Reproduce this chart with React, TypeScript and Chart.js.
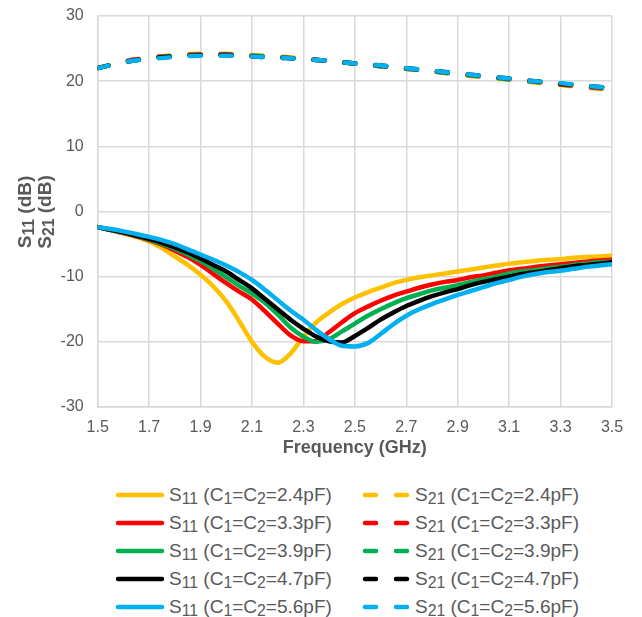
import React, { useEffect, useRef } from "react";
import { Chart, registerables } from "chart.js";
Chart.register(...registerables);

// Frequency grid (GHz) for S11 traces
const freq11 = [
  1.5, 1.55, 1.6, 1.65, 1.7, 1.75, 1.8, 1.85, 1.9, 1.95, 2.0,
  2.05, 2.1, 2.15, 2.2, 2.25, 2.3, 2.35, 2.4, 2.45, 2.5,
  2.55, 2.6, 2.65, 2.7, 2.75, 2.8, 2.85, 2.9, 2.95, 3.0,
  3.05, 3.1, 3.15, 3.2, 3.25, 3.3, 3.35, 3.4, 3.45, 3.5,
];
// Frequency grid (GHz) for S21 traces
const freq21 = [1.5, 1.6, 1.7, 1.8, 1.9, 2.0, 2.1, 2.2, 2.3, 2.4, 2.5, 2.6, 2.7, 2.8, 2.9, 3.0, 3.1, 3.2, 3.3, 3.4, 3.5];

// S11 (dB)
const s11_24 = [
  -2.4, -2.85, -3.35, -3.9, -4.6, -5.6, -6.9, -8.2, -9.7, -11.5, -13.8,
  -16.8, -20.0, -22.3, -23.2, -21.8, -19.2, -17.0, -15.5, -14.2, -13.2,
  -12.4, -11.7, -11.0, -10.5, -10.1, -9.8, -9.5, -9.2, -8.9, -8.6,
  -8.3, -8.0, -7.8, -7.6, -7.4, -7.3, -7.1, -7.0, -6.9, -6.8,
];
const s11_33 = [
  -2.4, -2.85, -3.3, -3.8, -4.4, -5.1, -6.0, -7.0, -8.2, -9.6, -11.0,
  -12.3, -13.5, -15.3, -17.2, -19.0, -19.9, -19.9, -18.5, -17.0, -15.6,
  -14.6, -13.7, -12.9, -12.3, -11.7, -11.2, -10.8, -10.5, -10.1, -9.8,
  -9.4, -9.0, -8.8, -8.5, -8.3, -8.1, -7.9, -7.7, -7.5, -7.4,
];
const s11_39 = [
  -2.4, -2.8, -3.25, -3.75, -4.3, -4.95, -5.7, -6.6, -7.6, -8.8, -10.1,
  -11.4, -12.6, -14.0, -15.8, -17.8, -19.2, -20.0, -19.6, -18.4, -17.2,
  -16.0, -15.0, -14.1, -13.3, -12.7, -12.1, -11.7, -11.3, -10.8, -10.4,
  -10.0, -9.5, -9.2, -9.0, -8.7, -8.5, -8.2, -8.0, -7.8, -7.7,
];
const s11_47 = [
  -2.4, -2.8, -3.2, -3.7, -4.2, -4.8, -5.5, -6.3, -7.2, -8.2, -9.2,
  -10.5, -11.8, -13.4, -15.0, -16.6, -18.0, -19.2, -19.9, -20.1, -19.1,
  -17.9, -16.6, -15.5, -14.5, -13.7, -13.0, -12.4, -11.9, -11.3, -10.8,
  -10.4, -10.0, -9.6, -9.3, -9.0, -8.7, -8.4, -8.2, -8.0, -7.8,
];
const s11_56 = [
  -2.4, -2.7, -3.05, -3.45, -3.9, -4.4, -5.0, -5.8, -6.6, -7.4, -8.3,
  -9.3, -10.5, -12.0, -13.6, -15.2, -16.6, -18.2, -19.6, -20.6, -20.7,
  -20.2, -18.8, -17.3, -16.0, -15.0, -14.2, -13.5, -12.8, -12.2, -11.6,
  -11.0, -10.5, -10.0, -9.6, -9.3, -9.1, -8.8, -8.5, -8.3, -8.1,
];

// S21 (dB)
const s21_24 = [22.0, 23.0, 23.6, 24.0, 24.2, 24.2, 24.0, 23.8, 23.5, 23.1, 22.7, 22.3, 21.9, 21.5, 21.0, 20.6, 20.2, 19.8, 19.4, 19.0, 18.7];
const s21_33 = [22.0, 23.0, 23.6, 23.9, 24.1, 24.1, 23.9, 23.7, 23.4, 23.1, 22.7, 22.3, 21.9, 21.5, 21.1, 20.7, 20.3, 19.9, 19.5, 19.1, 18.8];
const s21_39 = [22.0, 22.9, 23.5, 23.9, 24.0, 24.0, 23.9, 23.7, 23.4, 23.1, 22.7, 22.3, 21.9, 21.5, 21.1, 20.7, 20.3, 19.9, 19.6, 19.2, 18.9];
const s21_47 = [22.0, 22.9, 23.5, 23.8, 24.0, 24.0, 23.8, 23.6, 23.4, 23.1, 22.7, 22.4, 22.0, 21.6, 21.2, 20.8, 20.4, 20.0, 19.6, 19.3, 18.9];
const s21_56 = [22.0, 22.9, 23.4, 23.7, 23.9, 23.9, 23.8, 23.6, 23.4, 23.1, 22.7, 22.4, 22.0, 21.6, 21.2, 20.8, 20.4, 20.0, 19.7, 19.3, 18.9];

const capValues = ["2.4", "3.3", "3.9", "4.7", "5.6"];
const seriesColors = ["#FFC000", "#FF0000", "#00B050", "#000000", "#00B0F0"];
const xTicks = [1.5, 1.7, 1.9, 2.1, 2.3, 2.5, 2.7, 2.9, 3.1, 3.3, 3.5];
const yTicks = [-30, -20, -10, 0, 10, 20, 30];

const FONT = '"Liberation Sans", Arial, Helvetica, sans-serif';
const TEXT = "#595959";
const GRID = "#d9d9d9";

const subStyle: React.CSSProperties = { fontSize: "0.83em", position: "relative", top: "0.2em", verticalAlign: "baseline" };

function LegendText({ s, cap }: { s: string; cap: string }) {
  return (
    <span>
      S<span style={subStyle}>{s}</span> (C<span style={subStyle}>1</span>=C<span style={subStyle}>2</span>={cap}pF)
    </span>
  );
}

export default function App() {
  const ref = useRef<HTMLCanvasElement>(null);

  useEffect(() => {
    const canvas = ref.current;
    if (!canvas) return;
    const s11 = [s11_24, s11_33, s11_39, s11_47, s11_56];
    const s21 = [s21_24, s21_33, s21_39, s21_47, s21_56];
    const datasets: any[] = [];
    // index 0 is drawn last (on top) -> push last series first
    for (let i = 4; i >= 0; i--) {
      datasets.push({
        label: `S11 (C1=C2=${capValues[i]}pF)`,
        data: freq11.map((f, k) => ({ x: f, y: s11[i][k] })),
        borderColor: seriesColors[i],
        backgroundColor: seriesColors[i],
        borderWidth: 4.5,
        pointRadius: 0,
        cubicInterpolationMode: "monotone",
        borderCapStyle: "round",
        borderJoinStyle: "round",
        fill: false,
      });
    }
    for (let i = 4; i >= 0; i--) {
      datasets.push({
        label: `S21 (C1=C2=${capValues[i]}pF)`,
        data: freq21.map((f, k) => ({ x: f, y: s21[i][k] })),
        borderColor: seriesColors[i],
        backgroundColor: seriesColors[i],
        borderWidth: 4.5,
        borderDash: [11, 20],
        pointRadius: 0,
        cubicInterpolationMode: "monotone",
        borderCapStyle: "round",
        borderJoinStyle: "round",
        fill: false,
      });
    }

    const chart = new Chart(canvas, {
      type: "line",
      data: { datasets },
      options: {
        responsive: false,
        animation: false,
        devicePixelRatio: 1,
        layout: { autoPadding: false, padding: { top: 16, right: 30, bottom: 0, left: 0 } },
        plugins: { legend: { display: false }, tooltip: { enabled: false } },
        scales: {
          x: {
            type: "linear",
            min: 1.5,
            max: 3.5,
            afterBuildTicks: (s: any) => {
              s.ticks = xTicks.map((v) => ({ value: v }));
            },
            afterFit: (s: any) => {
              s.height = 56;
              s.paddingLeft = 0;
              s.paddingRight = 0;
            },
            ticks: {
              padding: 11,
              color: TEXT,
              font: { family: FONT, size: 16 },
              maxRotation: 0,
              autoSkip: false,
              callback: (v: any) => Number(v).toFixed(1),
            },
            grid: { color: GRID, lineWidth: 1.5, drawTicks: false },
            border: { display: true, color: GRID, width: 1.5 },
            title: {
              display: true,
              text: "Frequency (GHz)",
              color: TEXT,
              font: { family: FONT, size: 18, weight: "bold" },
              padding: { top: 2, bottom: 4 },
            },
          },
          y: {
            type: "linear",
            min: -30,
            max: 30,
            afterBuildTicks: (s: any) => {
              s.ticks = yTicks.map((v) => ({ value: v }));
            },
            afterFit: (s: any) => {
              s.width = 97.7;
              s.paddingTop = 0;
              s.paddingBottom = 0;
            },
            ticks: {
              padding: 14,
              color: TEXT,
              font: { family: FONT, size: 16 },
              autoSkip: false,
            },
            grid: { color: GRID, lineWidth: 1.5, drawTicks: false },
            border: { display: true, color: GRID, width: 1.5 },
          },
        },
      },
    } as any);
    return () => chart.destroy();
  }, []);

  const rows = [0, 1, 2, 3, 4];
  return (
    <div style={{ position: "absolute", left: 0, top: 0, width: 642, height: 617, background: "#fff", overflow: "hidden" }}>
      <canvas ref={ref} width={642} height={463} style={{ position: "absolute", left: 0, top: 0, display: "block" }} />
      <div
        style={{
          position: "absolute",
          left: 34 - 100,
          top: 211.7 - 19,
          width: 200,
          height: 38,
          transform: "rotate(-90deg)",
          transformOrigin: "50% 50%",
          textAlign: "center",
          fontFamily: FONT,
          fontWeight: "bold",
          fontSize: 19,
          lineHeight: "19px",
          color: TEXT,
          whiteSpace: "nowrap",
        }}
      >
        <div>
          S<span style={subStyle}>11</span> (dB)
        </div>
        <div>
          S<span style={subStyle}>21</span> (dB)
        </div>
      </div>
      {rows.map((i) => (
        <div key={i} style={{ position: "absolute", left: 0, top: 481 + 28 * i, width: 642, height: 28, fontFamily: FONT, fontSize: 19, lineHeight: "28px", color: TEXT, whiteSpace: "nowrap" }}>
          <svg width={52} height={28} style={{ position: "absolute", left: 114, top: 0 }}>
            <line x1={4} y1={14} x2={48} y2={14} stroke={seriesColors[i]} strokeWidth={4.5} strokeLinecap="round" />
          </svg>
          <div style={{ position: "absolute", left: 169, top: 0 }}>
            <LegendText s="11" cap={capValues[i]} />
          </div>
          <svg width={54} height={28} style={{ position: "absolute", left: 360, top: 0 }}>
            <line x1={5} y1={14} x2={50} y2={14} stroke={seriesColors[i]} strokeWidth={4.5} strokeLinecap="round" strokeDasharray="11 20" />
          </svg>
          <div style={{ position: "absolute", left: 415, top: 0 }}>
            <LegendText s="21" cap={capValues[i]} />
          </div>
        </div>
      ))}
    </div>
  );
}
